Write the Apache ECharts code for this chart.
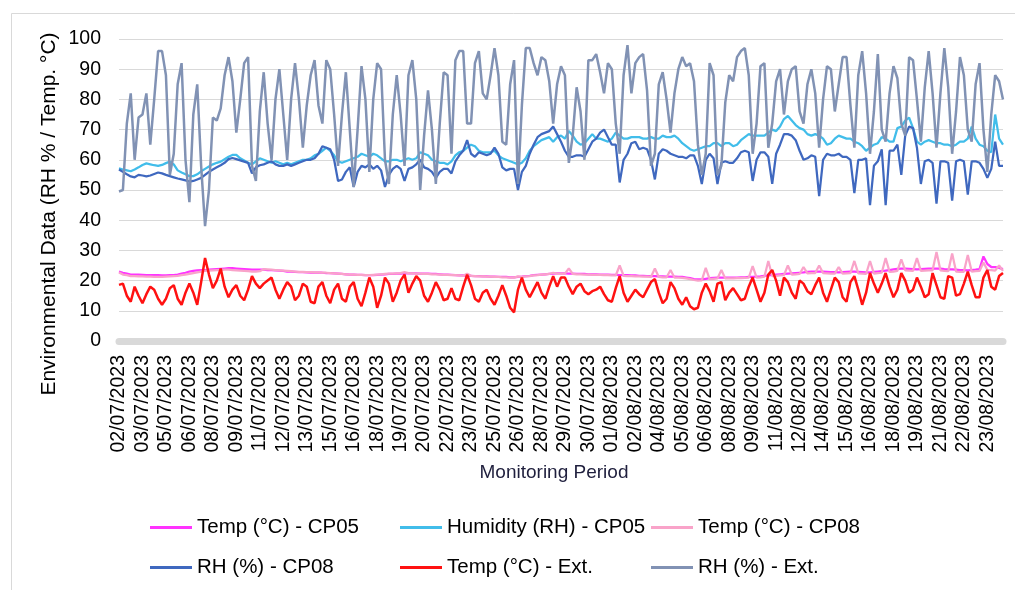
<!DOCTYPE html>
<html><head><meta charset="utf-8">
<script src="https://cdn.jsdelivr.net/npm/echarts@6/dist/echarts.min.js"></script>
<style>html,body{margin:0;padding:0;background:#fff}#chart{width:1015px;height:590px}</style>
</head><body><div id="chart"></div>
<script>
const tickLabels = ['02/07/2023','03/07/2023','05/07/2023','06/07/2023','08/07/2023','09/07/2023','11/07/2023','12/07/2023','13/07/2023','15/07/2023','16/07/2023','18/07/2023','19/07/2023','20/07/2023','22/07/2023','23/07/2023','25/07/2023','26/07/2023','28/07/2023','29/07/2023','30/07/2023','01/08/2023','02/08/2023','04/08/2023','05/08/2023','06/08/2023','08/08/2023','09/08/2023','11/08/2023','12/08/2023','14/08/2023','15/08/2023','16/08/2023','18/08/2023','19/08/2023','21/08/2023','22/08/2023','23/08/2023'];
const samplesPerTick = 6;

const tempCP05 = [23.0,22.6,22.3,22.0,22.0,22.0,21.9,21.8,21.8,21.8,21.8,21.7,21.7,21.8,21.8,22.0,22.3,22.6,23.0,23.2,23.4,23.5,23.5,23.6,23.7,23.8,23.9,24.0,24.1,24.1,24.0,23.9,23.8,23.7,23.6,23.6,23.6,
23.6,23.5,23.5,23.4,23.3,23.2,23.0,23.0,22.9,22.8,22.8,22.7,22.6,22.6,22.6,22.6,22.5,22.5,22.4,22.3,22.2,22.1,22.0,22.0,21.9,21.9,21.8,21.8,21.8,21.9,22.0,22.1,22.2,22.2,22.3,22.3,22.4,22.4,
22.4,22.4,22.3,22.3,22.3,22.2,22.2,22.1,22.0,22.0,21.9,21.8,21.7,21.7,21.6,21.6,21.5,21.5,21.4,21.4,21.3,21.3,21.2,21.2,21.2,21.1,21.1,21.2,21.3,21.5,21.6,21.8,21.9,22.0,22.1,22.2,22.3,22.4,
22.4,22.4,22.3,22.3,22.2,22.2,22.2,22.1,22.1,22.1,22.0,22.0,22.0,21.9,21.9,21.8,21.8,21.8,21.7,21.7,21.6,21.6,21.5,21.5,21.5,21.4,21.4,21.3,21.3,21.3,21.2,21.2,21.0,20.8,20.5,20.4,20.4,20.6,
20.8,20.9,21.0,21.0,21.0,21.0,21.0,21.0,21.1,21.1,21.2,21.2,21.3,21.4,21.6,21.7,21.9,22.0,22.1,22.2,22.3,22.4,22.5,22.6,22.7,22.9,23.0,23.0,23.0,23.0,22.9,22.8,22.8,22.7,22.8,22.9,23.0,23.0,
22.9,22.8,22.7,22.7,22.9,23.0,23.1,23.3,23.5,23.7,23.9,24.0,24.0,23.9,23.8,23.7,23.8,23.9,24.0,24.0,24.0,24.0,23.8,23.7,23.7,23.6,23.5,23.5,23.4,23.5,23.6,23.8,28.0,25.5,24.5,24.5,24.2,23.8];

const humCP05 = [57.2,56.8,56.5,56.2,56.8,57.5,58.3,58.8,58.5,58.2,58.0,58.3,58.9,59.4,58.5,56.5,55.8,55.2,54.6,54.6,55.2,56.2,57.0,57.8,58.5,59.0,59.4,60.2,61.0,61.6,61.6,60.5,59.8,59.0,58.5,59.5,60.5,
60,59.5,59,59.5,59,58.5,59,58.5,59,59.5,60,60,60.5,61.5,62,63,64,63,61.5,59.5,59,59.5,60,60.5,61,62,61.5,61,62,61.5,60.5,59.5,59.5,60,60,59.5,60,60.5,
60,60.5,62.5,62,61.5,60,59.5,59,59,58.5,59.5,61.5,62.5,63,64,65,64.5,63,62.5,62.5,62.5,63,61.5,60.5,60,59.5,59,58.5,59,60.5,63,64.5,65.5,66.5,67,67.5,66,67.5,
68,67,69.5,68,66,65,65.5,67,68.5,67,67,66.5,66,67,69,68,67,67,67.5,67.5,67.5,67,67,67.5,67,67,68,67.5,67.5,68,67,65.5,64.5,63.5,63,63.5,64,64.5,
64.5,65.5,65.5,64.5,65.5,65.5,64.5,65,66.5,67.5,68.5,68,68,68,68,69,70,69.5,71,73.5,74.5,73,71.5,70.5,70,68.5,68,68.5,68,67,65,65.5,67,68,67.5,67,67,66,
65.5,64.5,63,64,65,65.5,67.5,67,66,66,70.5,71,73,74,70.5,66,65,66,66.5,66,65.5,65.5,65,65,64.5,65,66,66,67,71,67,65,64.5,63,62.5,75,67,65];

const tempCP08 = [22.7,22.0,21.8,21.5,21.5,21.4,21.4,21.3,21.3,21.2,21.2,21.2,21.3,21.4,21.5,21.6,21.8,22.0,22.2,22.5,22.7,23.0,23.2,23.3,23.4,23.5,23.5,23.6,23.6,23.5,23.4,23.3,23.2,23.1,23.0,23.0,23.1,
23.8,23.7,23.6,23.5,23.4,23.3,23.2,23.1,23.0,22.9,22.9,22.8,22.8,22.7,22.7,22.6,22.6,22.5,22.4,22.3,22.2,22.1,22.0,22.0,21.9,21.9,21.8,21.8,21.9,22.0,22.1,22.2,22.3,22.3,22.4,22.5,22.8,22.5,
22.4,22.3,22.3,22.2,22.2,22.1,22.1,22.0,21.9,21.9,21.8,21.8,21.7,21.6,22.3,21.6,21.5,21.4,21.4,21.3,21.3,21.2,21.2,21.1,21.1,21.0,21.0,21.4,21.2,21.4,21.5,21.7,21.8,22.0,22.1,22.2,22.6,22.3,
22.3,22.3,24.0,22.2,22.1,22.1,22.0,22.0,21.9,21.9,21.9,21.8,21.8,21.7,21.7,25.0,21.6,21.5,21.5,21.4,21.4,21.3,21.3,21.2,24.0,21.2,21.1,21.1,23.5,21.0,21.0,20.9,20.7,20.5,20.2,20.0,20.1,24.2,
20.5,20.6,20.7,23.5,20.7,20.7,20.7,20.8,20.8,20.9,21.0,24.8,21.0,21.1,21.3,26.5,21.5,21.6,21.7,21.8,25.0,22.0,22.1,22.2,24.5,22.4,22.5,22.5,25.0,22.5,22.4,22.3,22.3,24.5,22.3,22.4,22.5,26.5,
22.4,22.3,22.2,26.5,22.3,22.5,22.6,27.5,22.9,23.0,23.2,27.0,23.4,23.3,23.2,27.5,23.2,23.3,23.4,23.4,29.5,23.4,23.2,23.1,29.0,23.0,22.9,22.9,28.5,23.0,23.1,23.2,26.0,23.5,23.5,23.3,25.0,23.2];

const rhCP08 = [56.8,56.0,55.2,54.5,54.2,55.0,54.8,54.5,54.8,55.3,55.8,55.5,55.0,54.6,54.2,53.8,53.5,53.2,52.8,53.0,53.5,54.0,55.0,56.0,56.8,57.5,58.2,59.0,60.2,60.6,60.2,59.8,59.4,59.0,55.5,57.5,58.2,
58.5,59,59.5,58.5,58,58,58.5,58,58.5,59,59.5,60,60,60.5,62,64.5,64,63.5,60,53,53.5,56,57.5,51,56,58,57.5,58.5,57,58,56.5,51,55,57,58,57,53,57,
57.5,58.5,60,57.5,57,56,54,56,57,57,55.5,59.5,61.5,63,66.5,62,61,62.5,62,61.5,62,64,62,57.5,56.5,57,57,50,56,58,62,65,67.5,68.5,69,69.5,71,68.5,
66,63,61,61,61.5,61.5,61,63.5,66,67,69,70,67.5,65,65,52.5,60,62,65.5,66,63.5,64,63.5,60,53.5,62,63.5,63,62,61.5,61,61,60.5,61.5,61.5,58,52,60,
62,60.5,52,59,59.5,59,59,60.5,62.5,63,62.5,53,60,62.5,62.5,61,52,62,65,68.5,68.5,68,66.5,63,60,60.5,61.5,61,48,60,62,61.5,61.5,62,61,61,60,49,
60,60,60.5,45,58,59.5,63.5,45,63,63,65,55,68,71,70.5,64,52,59.5,60,59,45.5,59.5,59.5,59,46.5,59.5,60,59.5,48.5,59.5,59.5,59,57,54,57,66,58,58];

const tempExt = [18.6,19,15,13,18,15,12.5,15.5,18,17,14,12,14,17.5,18.5,14,12,16,19,16,12,19.5,27.5,22,17.5,20,24,18,14.5,17,18.5,15,13.5,17,21.5,19,17.5,
19,20,21,17,14,17,19.5,18,13.5,15,19,18,13,12.5,18,19.5,15,12.5,17,19,14,13,18,19.5,14,11.5,16,21,18,11,15,21,19,13,16,20,22,16,
19,21.5,20,15,13,16,19.5,17,13.5,14,17.5,14,13.5,18,22,18.5,14,13,16,17,14,12,15,18.5,15,11,9.5,17,21,17,14.5,17,19.5,16,14,18,21.5,18,
21,21,18,15.5,18,19,16.5,15.5,16.5,17,18,15.5,13.5,13,17.5,21.5,16,13,15,17,15.5,14.5,17,19.5,20.5,16,12.5,14,19.5,17.5,14,12,14.5,11.5,10.5,11,16,19,
16.5,13,19,19.5,13.5,16,17.5,15.5,13.5,14,18,21,17,13,16,22,23.5,20,15,21,19.5,16,14,20,19,16.5,15.5,18.5,21,16,13,17,21,19.5,14.5,13,19.5,21.5,
17,12,16,22.5,19,16,19,22.5,18,14.5,17,22.5,20,16,17,21,18,14.5,15.5,22.5,18.5,14.5,14,21.5,21,15,15.5,19,23,18.5,14.5,14.5,21,23.5,18,17,21.5,22.5];

const rhExt = [49.5,50,72,82,60,74,75,82,65,80,96,96,88,55,62,85,92,60,46,75,85,58,38,50,74,73,77,88,94,86,69,80,92,94,58,53,76,
89,72,60,80,90,75,60,80,92,80,64,78,88,93,78,72,93,90,75,58,75,89,70,51,70,91,80,56,80,92,90,60,52,75,88,75,58,88,
93,80,50,68,83,70,52,72,89,88,62,93,96,96,72,72,92,96,82,80,88,97,88,66,65,85,93,52,78,97,97,92,88,94,93,86,72,85,
91,88,59,68,84,76,60,93,93,95,89,82,92,90,72,62,88,98,82,92,94,95,83,58,62,85,89,80,69,82,90,94,91,92,86,65,55,62,
92,88,55,58,79,88,86,94,96,97,88,62,72,91,92,64,72,86,90,75,86,90,91,76,72,85,90,82,64,80,91,90,76,85,94,94,78,64,
88,96,82,62,76,95,70,66,82,91,87,72,68,94,93,80,66,84,96,82,64,82,97,84,62,76,94,88,70,66,85,92,70,56,75,88,86,80];

const seriesNames = ['Temp (°C) - CP05','Humidity (RH) - CP05','Temp (°C) - CP08','RH (%) - CP08','Temp (°C) - Ext.','RH (%) - Ext.'];
const seriesData = [tempCP05, humCP05, tempCP08, rhCP08, tempExt, rhExt];
const seriesColors = ['#ff33ff','#41bdea','#f9a3c9','#3f68bf','#ff1111','#8192b4'];
const seriesWidths = [2.25,2.25,2.25,2.25,2.5,2.5];

const categories = [];
for (let k = 0; k < tickLabels.length; k++) {
  for (let j = 0; j < samplesPerTick; j++) {
    if (categories.length < rhExt.length) categories.push(tickLabels[k] + '|' + j);
  }
}

const FF = '"Liberation Sans", Arial, Helvetica, sans-serif';
const legendPos = [[150,517],[400,517],[651,517],[150,557],[400,557],[651,557]];

const chart = echarts.init(document.getElementById('chart'), null, {renderer:'canvas'});
chart.setOption({
  animation: false,
  backgroundColor: '#fff',
  textStyle: {fontFamily: FF},
  grid: {left: 119, right: 12, top: 39, bottom: 249, containLabel: false},
  xAxis: {
    type: 'category', data: categories, boundaryGap: false, offset: 3,
    axisLine: {show: true, lineStyle: {color: '#d9d9d9', width: 7}},
    axisTick: {show: false},
    splitLine: {show: false},
    axisLabel: {interval: samplesPerTick - 1, rotate: 90, margin: 11, fontSize: 19.5, color: '#000', fontFamily: FF,
      formatter: v => v.split('|')[0]}
  },
  yAxis: {
    type: 'value', min: 0, max: 100, interval: 10,
    axisLine: {show: false}, axisTick: {show: false},
    axisLabel: {fontSize: 19.5, color: '#000', margin: 18, fontFamily: FF},
    splitLine: {lineStyle: {color: '#d9d9d9', width: 1}}
  },
  legend: seriesNames.map((n, i) => ({
    data: [n], left: legendPos[i][0], top: legendPos[i][1], padding: 0,
    icon: 'rect', itemWidth: 42, itemHeight: 3, itemGap: 0,
    textStyle: {fontSize: 20.5, color: '#000', fontFamily: FF}
  })),
  graphic: [
    {type: 'rect', silent: true, shape: {x: 11.5, y: 13.5, width: 1200, height: 800}, style: {fill: 'none', stroke: '#d9d9d9', lineWidth: 1}},
    {type: 'text', silent: true, x: 49, y: 214, rotation: Math.PI / 2,
      style: {text: 'Environmental Data (RH % / Temp. °C)', font: '21px ' + FF, fill: '#000', textAlign: 'center', textVerticalAlign: 'middle'}},
    {type: 'text', silent: true, x: 554, y: 473,
      style: {text: 'Monitoring Period', font: '19px ' + FF, fill: '#1f1f3d', textAlign: 'center', textVerticalAlign: 'middle'}}
  ],
  series: seriesNames.map((n, i) => ({
    name: n, type: 'line', data: seriesData[i], symbol: 'none', showSymbol: false,
    lineStyle: {color: seriesColors[i], width: seriesWidths[i]},
    itemStyle: {color: seriesColors[i]},
    emphasis: {disabled: true}
  }))
});
</script></body></html>
